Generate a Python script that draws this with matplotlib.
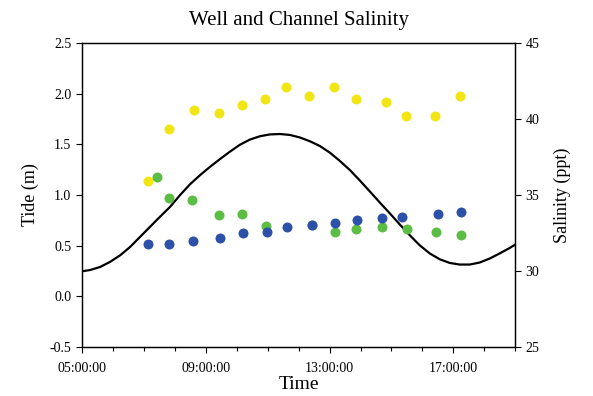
import numpy as np
import matplotlib.pyplot as plt
from matplotlib.ticker import FixedLocator, MultipleLocator, FuncFormatter

plt.rcParams["font.family"] = ["Liberation Serif", "DejaVu Serif"]

# tide level (m), time in decimal hours
tide_t = [5.0, 5.27, 5.59, 5.91, 6.24, 6.56, 6.88, 7.2, 7.52, 7.85, 8.17,
          8.49, 8.82, 9.14, 9.46, 9.78, 10.1, 10.42, 10.75, 11.07, 11.4,
          11.72, 12.04, 12.37, 12.69, 13.01, 13.33, 13.66, 13.98, 14.3,
          14.62, 14.95, 15.27, 15.59, 15.91, 16.24, 16.56, 16.88, 17.2,
          17.53, 17.85, 18.17, 18.49, 18.82, 19.0]
tide_m = [0.245, 0.258, 0.288, 0.338, 0.404, 0.486, 0.585, 0.684, 0.783,
          0.882, 0.998, 1.104, 1.196, 1.278, 1.354, 1.427, 1.495, 1.546,
          1.58, 1.598, 1.602, 1.593, 1.568, 1.53, 1.483, 1.418, 1.337,
          1.245, 1.142, 1.035, 0.926, 0.817, 0.708, 0.602, 0.503, 0.421,
          0.364, 0.328, 0.312, 0.312, 0.332, 0.371, 0.421, 0.476, 0.51]

# salinity (ppt)
yellow_t = [7.15, 7.83, 8.61, 9.43, 10.16, 10.9, 11.58, 12.35, 13.14, 13.86,
            14.83, 15.46, 16.41, 17.2]
yellow_s = [35.9, 39.35, 40.6, 40.4, 40.9, 41.3, 42.1, 41.5, 42.1, 41.3,
            41.1, 40.2, 40.2, 41.5]

green_t = [7.42, 7.83, 8.55, 9.44, 10.16, 10.95, 12.44, 13.19, 13.87, 14.68,
           15.49, 16.44, 17.25]
green_s = [36.15, 34.83, 34.64, 33.67, 33.76, 32.97, 33.05, 32.57, 32.77,
           32.86, 32.77, 32.57, 32.37]

blue_t = [7.15, 7.83, 8.58, 9.45, 10.19, 10.97, 11.63, 12.42, 13.18, 13.9,
          14.7, 15.34, 16.49, 17.25]
blue_s = [31.76, 31.76, 31.96, 32.15, 32.46, 32.57, 32.86, 33.05, 33.17,
          33.36, 33.45, 33.56, 33.76, 33.85]

time_ticks = [5, 9, 13, 17]


def hms(x, pos):
    h = int(round(x))
    return f"{h:02d}:00:00"


fig = plt.figure(figsize=(5.93, 3.96), dpi=100)
ax1 = fig.add_axes([0.138, 0.1245, 0.731, 0.7665])
ax2 = ax1.twinx()

ax1.plot(tide_t, tide_m, color="black", lw=1.6, solid_joinstyle="round")
ax1.set_xlim(5, 19)
ax1.set_ylim(-0.5, 2.5)
ax1.xaxis.set_major_locator(FixedLocator(time_ticks))
ax1.xaxis.set_minor_locator(MultipleLocator(1))
ax1.xaxis.set_major_formatter(FuncFormatter(hms))
ax1.yaxis.set_major_locator(MultipleLocator(0.5))
ax1.yaxis.set_major_formatter(FuncFormatter(lambda v, p: f"{v:.1f}"))

ms = 7.2
ax2.plot(yellow_t, yellow_s, "o", color="#f2e514", ms=ms, mec="none")
ax2.plot(green_t, green_s, "o", color="#5cbd45", ms=ms, mec="none")
ax2.plot(blue_t, blue_s, "o", color="#2d50a8", ms=ms, mec="none")
ax2.set_ylim(25, 45)
ax2.yaxis.set_major_locator(MultipleLocator(5))

for ax in (ax1, ax2):
    ax.tick_params(direction="out", length=4, width=0.8, labelsize=10)
    ax.tick_params(which="minor", direction="out", length=3, width=0.8)
    for sp in ax.spines.values():
        sp.set_linewidth(0.9)
ax1.tick_params(axis="x", pad=7)

ax1.set_xlabel("Time", fontsize=14, labelpad=1)
ax1.set_ylabel("Tide (m)", fontsize=13, labelpad=8)
ax2.set_ylabel("Salinity (ppt)", fontsize=13, labelpad=10)
ax1.set_title("Well and Channel Salinity", fontsize=15, pad=13)

fig.savefig("out.png", dpi=100)
